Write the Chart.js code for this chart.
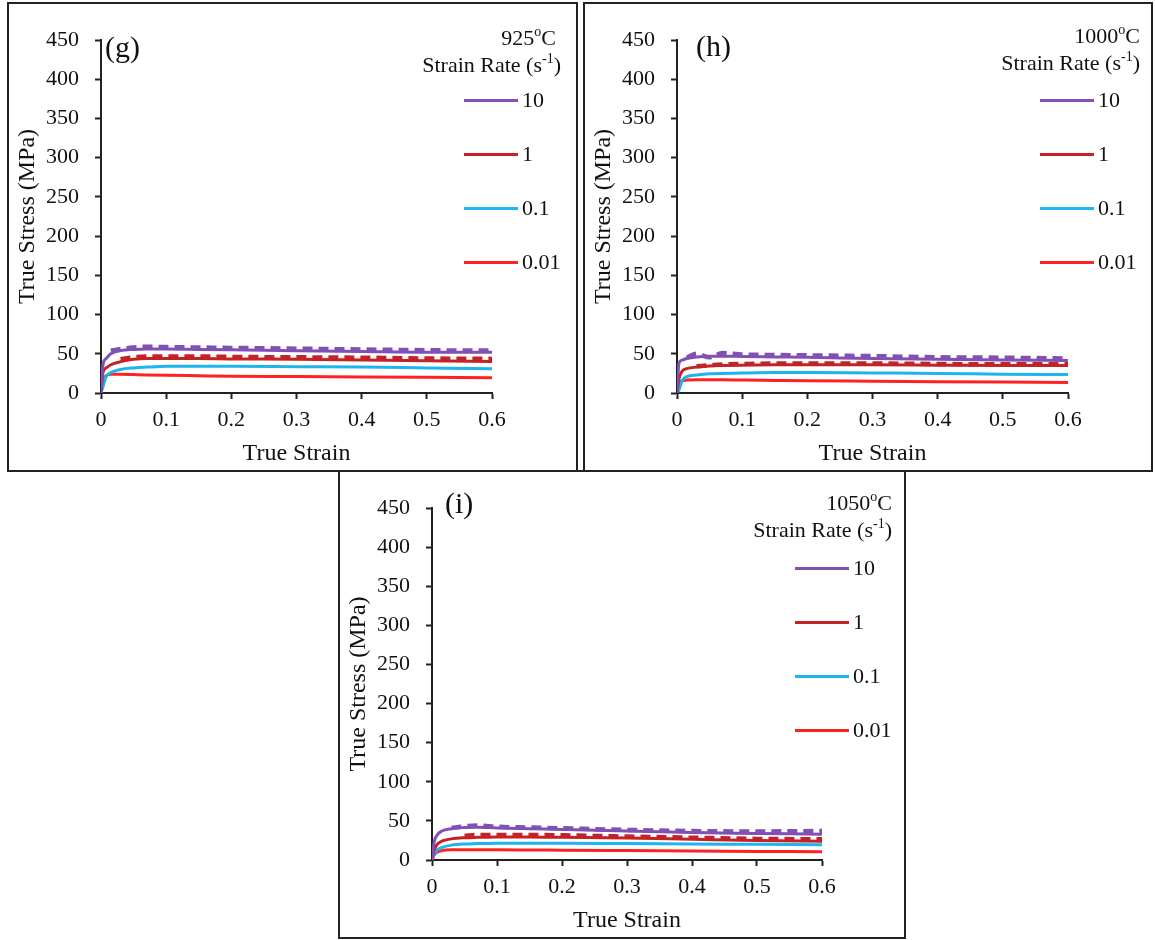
<!DOCTYPE html>
<html>
<head>
<meta charset="utf-8">
<script src="https://cdn.jsdelivr.net/npm/chart.js@4.4.1/dist/chart.umd.min.js"></script>
<style>
body{margin:0;background:#fff;width:1155px;height:940px;position:relative;overflow:hidden;font-family:'Liberation Serif','Times New Roman',serif;color:#111;}
.panel{position:absolute;border:2px solid #222;box-sizing:border-box;}
.panel canvas{position:absolute;left:0;top:0;}
.tag{position:absolute;font-size:30px;line-height:32px;}
.head{position:absolute;font-size:22px;line-height:27px;text-align:right;white-space:nowrap;}
.head sup{font-size:14px;vertical-align:9px;line-height:0;}
.key{position:absolute;font-size:22px;line-height:26px;white-space:nowrap;}
</style>
</head>
<body>
<script>
// strain grid shared by every curve
const strain = [0, 0.003, 0.008, 0.015, 0.03, 0.05, 0.07, 0.1, 0.15, 0.2, 0.3, 0.4, 0.5, 0.6];
const rates = ['10', '1', '0.1', '0.01'];
const rateColors = ['#8050B4', '#C42226', '#1CB5EE', '#FF2222'];

// 925 C : solid curves (10, 1, 0.1, 0.01) and dashed curves (10, 1)
const solid925 = [
  [0, 36, 44, 50, 54, 55.5, 56, 56, 55.5, 55, 54, 53, 52, 52],
  [0, 26, 32, 36, 40, 43, 44, 44, 44, 43.5, 43, 42, 41, 40],
  [0, 8, 21, 26, 30, 32, 33, 34, 34, 34, 33.5, 33, 32, 31],
  [0, 16, 22, 24, 24, 23.5, 23, 22.5, 22, 21.5, 21, 20.5, 20, 19.5]
];
const dash925 = [
  [null, null, null, 54, 56, 58, 59, 58.5, 58, 57.5, 56.5, 55.5, 54.5, 54],
  [null, null, null, null, 43, 45.5, 46.5, 46.5, 46.5, 46, 45.5, 45, 44, 43.5]
];

// 1000 C
const solid1000 = [
  [0, 38, 42, 44, 46, 47, 47, 46.5, 46, 45.5, 44, 43, 42, 41.5],
  [0, 18, 28, 31, 33, 34.5, 35, 35.5, 36, 36, 36, 35.5, 35, 35],
  [0, 4, 16, 21, 23, 24.5, 25, 25.5, 26, 26, 25.5, 25, 24, 23.5],
  [0, 12, 15.5, 16.5, 17, 17, 17, 16.5, 16, 15.5, 15, 14.5, 14, 13.5]
];
const dash1000 = [
  [null, null, null, 45, 50, 45.5, 51, 49, 48.5, 48, 47, 45.5, 45, 44],
  [null, null, null, null, 34, 35.5, 36.5, 37, 37.5, 37.5, 37.5, 37, 36.5, 36.5]
];

// 1050 C
const solid1050 = [
  [0, 22, 32, 37, 40, 41.5, 42, 41, 40, 39, 37, 35, 34, 33],
  [0, 12, 20, 24, 27, 28.5, 29, 29.5, 29.5, 29, 28, 26.5, 25, 24],
  [0, 7, 13, 16, 19, 20.5, 21, 21.5, 21.5, 21.5, 21, 20.5, 20, 19.5],
  [0, 6, 10, 12, 13, 13, 13, 13, 12.8, 12.5, 12, 11.5, 11, 10.5]
];
const dash1050 = [
  [null, null, null, null, 41, 43, 44, 42.5, 41.5, 40.5, 38.5, 37, 36.5, 37],
  [null, null, null, null, null, 31, 32, 32, 32, 31.5, 30, 28.5, 27, 26.5]
];

const panels = [
  {tag: '(g)', temp: '925', solid: solid925, dash: dash925,
   box: [7, 2, 571, 470], area: [92, 36, 483, 389], tagPos: [96, 27], headRight: [20, 15], headTop: 20},
  {tag: '(h)', temp: '1000', solid: solid1000, dash: dash1000,
   box: [583, 2, 570, 470], area: [92, 36, 483, 389], tagPos: [111, 26], headRight: [11, 11], headTop: 18},
  {tag: '(i)', temp: '1050', solid: solid1050, dash: dash1050,
   box: [338, 470, 568, 469], area: [92, 36, 482, 388], tagPos: [105, 15], headRight: [12, 12], headTop: 17}
];

const tickFont = {family: "'Liberation Serif', 'Times New Roman', serif", size: 22};
const titleFont = {family: "'Liberation Serif', 'Times New Roman', serif", size: 24};

function curve(vals) {
  return strain.map((x, i) => ({x: x, y: vals[i]}));
}

panels.forEach(p => {
  const [bx, by, bw, bh] = p.box;
  const cw = bw - 4, ch = bh - 4;
  const [al, at, ar, ab] = p.area;

  const div = document.createElement('div');
  div.className = 'panel';
  div.style.cssText = `left:${bx}px;top:${by}px;width:${bw}px;height:${bh}px;`;
  document.body.appendChild(div);

  const cv = document.createElement('canvas');
  cv.width = cw; cv.height = ch;
  div.appendChild(cv);

  const datasets = [];
  p.dash.forEach((vals, k) => datasets.push({
    data: curve(vals), borderColor: rateColors[k], borderWidth: 4.5, borderDash: [10, 6],
    cubicInterpolationMode: 'monotone', pointRadius: 0, fill: false
  }));
  p.solid.forEach((vals, k) => datasets.push({
    data: curve(vals), borderColor: rateColors[k], borderWidth: 3,
    cubicInterpolationMode: 'monotone', pointRadius: 0, fill: false
  }));

  new Chart(cv.getContext('2d'), {
    type: 'line',
    data: {datasets: datasets},
    options: {
      responsive: false,
      animation: false,
      events: [],
      layout: {padding: {top: at, right: cw - ar, left: 0, bottom: 0}},
      plugins: {legend: {display: false}, tooltip: {enabled: false}},
      scales: {
        x: {
          type: 'linear', min: 0, max: 0.6,
          ticks: {stepSize: 0.1, color: '#111', font: tickFont, padding: 8, maxRotation: 0,
                  callback: v => String(+v.toFixed(1))},
          grid: {drawOnChartArea: false, tickLength: 6, tickColor: '#222', tickWidth: 2},
          border: {color: '#222', width: 2},
          title: {display: true, text: 'True Strain', color: '#111', font: titleFont, padding: {top: 0, bottom: 2}},
          afterFit: s => { s.height = ch - ab; }
        },
        y: {
          min: 0, max: 450,
          ticks: {stepSize: 50, color: '#111', font: tickFont, padding: 16},
          grid: {drawOnChartArea: false, tickLength: 6, tickColor: '#222', tickWidth: 2},
          border: {color: '#222', width: 2},
          title: {display: true, text: 'True Stress (MPa)', color: '#111', font: titleFont, padding: {top: 4, bottom: 0}},
          afterFit: s => { s.width = al; }
        }
      }
    }
  });

  const tag = document.createElement('div');
  tag.className = 'tag';
  tag.style.cssText = `left:${p.tagPos[0]}px;top:${p.tagPos[1]}px;`;
  tag.textContent = p.tag;
  div.appendChild(tag);

  const t1 = document.createElement('div');
  t1.className = 'head';
  t1.style.cssText = `right:${p.headRight[0]}px;top:${p.headTop}px;`;
  t1.innerHTML = p.temp + '<sup>o</sup>C';
  div.appendChild(t1);

  const t2 = document.createElement('div');
  t2.className = 'head';
  t2.style.cssText = `right:${p.headRight[1]}px;top:${p.headTop + 27}px;`;
  t2.innerHTML = 'Strain Rate (s<sup>-1</sup>)';
  div.appendChild(t2);

  rates.forEach((r, k) => {
    const cy = 96 + 54 * k;
    const line = document.createElement('i');
    line.style.cssText = `position:absolute;left:455px;top:${cy - 1.5}px;width:54px;height:3px;background:${rateColors[k]};`;
    div.appendChild(line);
    const lab = document.createElement('div');
    lab.className = 'key';
    lab.style.cssText = `left:513px;top:${cy - 13}px;`;
    lab.textContent = r;
    div.appendChild(lab);
  });
});
</script>
</body>
</html>
